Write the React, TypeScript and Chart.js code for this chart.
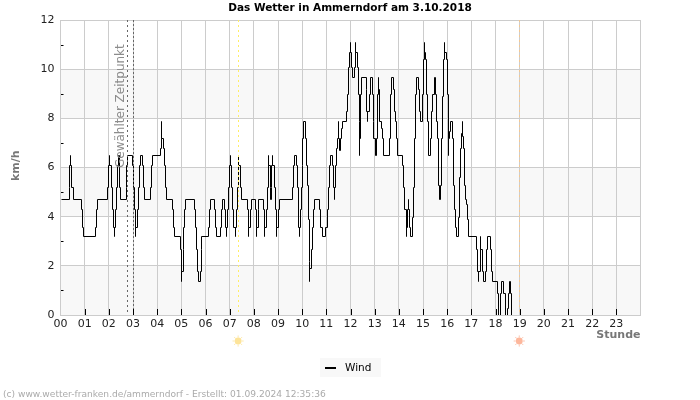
import React, { useEffect, useRef } from "react";
import { Chart, registerables } from "chart.js";

Chart.register(...registerables);

const chartTitle = "Das Wetter in Ammerndorf am 3.10.2018";
const seriesName = "Wind";
const yAxisTitle = "km/h";
const xAxisTitle = "Stunde";
const markerText = "Gewählter Zeitpunkt";
const footerText = "(c) www.wetter-franken.de/ammerndorf - Erstellt: 01.09.2024 12:35:36";

const earlyMinutes = [0, 19.9, 22.3, 24.8, 24.8, 27.3, 29.8, 50.5, 53.8, 55.4, 85.2, 87.7, 90.2, 115, 117.5, 121.6, 121.6, 125, 127.4, 129.9, 131.6, 131.6, 134.9, 137.4, 139.8, 142.3, 144.8, 147.3, 162.2, 163.8, 166.3, 177.1, 179.6, 182, 184.5, 186.2, 186.2, 189.5, 192, 194.5, 196.9, 201.9, 204.4, 206.9, 222.6, 224.3, 226.7, 245.8, 248.3, 250.7, 250.7, 254, 256.5, 259, 261.5, 276.4, 278.9, 281.4, 296.2, 298.7, 300.4, 300.4, 303.7, 305.3, 307.8, 310.3, 331, 334.3, 336, 338.4, 340.9, 345.9, 348.4, 350, 367.4, 369.9, 372.4, 382.3, 384.8, 387.3, 397.2, 399.7, 402.2, 407.1, 409.6, 412.1, 412.1, 414.6, 417.1, 419.5, 422, 422, 424.5, 427, 429.5, 432, 432, 435.3, 437.8, 440.2, 441.9, 441.9, 445.2, 447.7];
const earlyValues = [4.7, 5.2, 6.1, 6.5, 6.1, 5.2, 4.7, 4.3, 3.6, 3.2, 3.6, 4.3, 4.7, 5.2, 6.1, 6.5, 6.1, 5.2, 4.3, 3.6, 3.2, 3.6, 4.3, 5.2, 6.1, 6.5, 5.2, 4.7, 5.2, 6.1, 6.5, 6.1, 5.2, 4.3, 3.6, 3.2, 3.6, 4.3, 5.2, 6.1, 6.5, 6.1, 5.2, 4.7, 5.2, 6.1, 6.5, 6.8, 7.2, 7.9, 7.2, 6.8, 6.1, 5.2, 4.7, 4.3, 3.6, 3.2, 2.7, 1.8, 1.4, 1.8, 2.7, 3.6, 4.3, 4.7, 4.3, 3.6, 2.7, 1.8, 1.4, 1.8, 2.7, 3.2, 3.6, 4.3, 4.7, 4.3, 3.6, 3.2, 3.6, 4.3, 4.7, 4.3, 3.6, 3.2, 3.6, 4.3, 5.2, 6.1, 6.5, 6.1, 5.2, 4.3, 3.6, 3.2, 3.6, 4.3, 5.2, 6.1, 6.5, 6.1, 5.2, 4.7];

const middayMinutes = [462.6, 465, 466.7, 466.7, 470, 472.5, 482.4, 484.9, 486.6, 486.6, 489.9, 491.5, 502.3, 504.8, 506.4, 506.4, 509.7, 512.2, 514.7, 516.4, 516.4, 519.6, 521.3, 522.1, 523.8, 526.3, 526.3, 529.6, 532.1, 534.6, 536.2, 536.2, 539.5, 542, 575.9, 578.4, 580.9, 585.9, 588.4, 590, 590.9, 590.9, 594.2, 596.6, 599.1, 600.8, 603.3, 608.2, 610.7, 613.2, 615.7, 616.5, 618.2, 618.2, 621.5, 623.9, 626.4, 628.9, 643, 645.5, 648, 657.9, 661.3, 663.8, 666.2, 668.7, 673.7, 676.2, 677.8, 677.8, 680.3, 682.8, 685.3, 687.8, 687.8, 691.1, 693.5, 695.2, 697.7, 707.6];
const middayValues = [4.3, 3.6, 3.2, 3.6, 4.3, 4.7, 4.3, 3.6, 3.2, 3.6, 4.3, 4.7, 4.3, 3.6, 3.2, 3.6, 4.3, 5.2, 6.1, 6.5, 6.1, 5.2, 4.7, 5.2, 6.1, 6.5, 6.1, 5.2, 4.3, 3.6, 3.2, 3.6, 4.3, 4.7, 5.2, 6.1, 6.5, 6.1, 5.2, 3.6, 3.2, 3.6, 4.3, 5.2, 6.1, 7.2, 7.9, 7.2, 6.1, 5.3, 3.9, 2.2, 1.4, 1.9, 2.7, 3.6, 4.3, 4.7, 4.3, 3.6, 3.2, 3.6, 4.3, 5.2, 6.1, 6.5, 6.1, 5.2, 4.7, 5.2, 6.1, 6.8, 7.2, 7.9, 7.2, 6.7, 7.2, 7.6, 7.9, 8.3];

const peakMinutes = [710.1, 712.6, 715.1, 717.6, 717.6, 720, 722.5, 728.3, 730.8, 732.4, 732.4, 734.9, 737.4, 739.9, 742.3, 742.3, 744.8, 747.3, 757.3, 759.7, 762.2, 762.2, 764.7, 767.2, 772.2, 774.7, 777.1, 779.6, 782.1, 784.6, 787.1, 787.1, 791.9, 796.9, 799.4, 801.8, 816.7, 819.2, 821.7, 826.7, 829.1, 831.6, 834.1, 836.6, 849, 851.5, 854, 858.9, 858.9, 861.4, 863.9, 863.9, 866.4, 868.9, 873.8, 876.3, 878.8, 881.3, 883.8, 888.7, 891.2, 893.7, 898.7, 901.1, 903.6, 903.6, 906.1, 908.6, 911.1, 913.6, 918.5, 921, 923.5, 928.5, 929.3, 931.8, 934.2, 936.7, 939.2];
const peakValues = [9, 10.1, 10.7, 11.1, 10.7, 10.1, 9.7, 10.1, 10.7, 11.1, 10.7, 10.1, 9, 7.9, 6.5, 7.2, 9, 9.7, 9.2, 8.3, 7.9, 8.3, 9, 9.7, 9, 7.9, 7.2, 6.5, 7.2, 9, 9.7, 9.2, 7.9, 7.6, 7.2, 6.5, 7.2, 9, 9.7, 9.2, 8.3, 7.9, 7.2, 6.5, 6.1, 5.2, 4.3, 3.2, 3.6, 4.3, 4.7, 4.3, 3.6, 3.2, 4, 5.2, 7.2, 9, 9.7, 9.2, 8.3, 7.9, 9, 10.4, 11.1, 10.7, 10.4, 9, 7.9, 6.5, 7.2, 8.3, 9, 9.7, 9, 7.9, 7.2, 5.3, 4.7];

const lateMinutes = [943.4, 945.9, 948.4, 950.8, 953.3, 953.3, 957.5, 960, 961.6, 963.2, 963.2, 965.7, 968.2, 973.2, 975.6, 978.1, 980.6, 983.1, 988.1, 990.5, 993, 995.5, 997.2, 997.2, 1000.5, 1003, 1005.4, 1007.9, 1010.4, 1012.9, 1032.8, 1035.2, 1037.7, 1037.7, 1041, 1042.7, 1042.7, 1046, 1048.5, 1053.4, 1055.9, 1058.4, 1067.5, 1070, 1072.4, 1084.9, 1087.4, 1090.7, 1094.8, 1099.8, 1104.7, 1109.7, 1112.2, 1114.7, 1117.1, 1119.6];
const lateValues = [5.3, 7.2, 8.9, 10.4, 11.1, 10.7, 10.4, 9, 7.2, 6.5, 7.2, 7.5, 7.9, 7.2, 5.3, 4.3, 3.6, 3.2, 4, 5.6, 6.8, 7.4, 7.9, 7.3, 6.8, 5.3, 4.7, 4.5, 3.9, 3.2, 2.7, 1.8, 1.4, 1.8, 2.7, 3.2, 2.7, 1.8, 1.4, 1.8, 2.7, 3.2, 2.7, 1.8, 1.4, 0.9, 0, 0.9, 1.4, 0.9, 0, 0.3, 0.9, 1.4, 0.9, 0];

const windMinutes = [...earlyMinutes, ...middayMinutes, ...peakMinutes, ...lateMinutes];
const windValues = [...earlyValues, ...middayValues, ...peakValues, ...lateValues];

const sunriseMinute = 441;
const sunsetMinute = 1139;
const selectedMinute = 166;
const nowMarkerMinute = 180;
const bandRanges = [[0, 2], [4, 6], [8, 10]];
const minorYTicks = [1, 3, 5, 7, 9, 11];

const uiFont = "'DejaVu Sans', sans-serif";

const decorPlugin = {
  id: "decor",
  afterDatasetsUpdate(chart: any) {
    // The reference line is pixel-snapped: keep the scale-derived points on whole pixels.
    for (const p of chart.getDatasetMeta(0).data) {
      p.x = Math.round(p.x) + 0.5;
      p.y = Math.round(p.y) + 0.5;
    }
  },
  beforeDraw(chart: any) {
    const { ctx, chartArea: a, scales } = chart;
    ctx.save();
    ctx.fillStyle = "#f8f8f8";
    for (const [lo, hi] of bandRanges) {
      const yTop = scales.y.getPixelForValue(hi);
      const yBot = scales.y.getPixelForValue(lo);
      ctx.fillRect(a.left, yTop, a.right - a.left, yBot - yTop);
    }
    ctx.restore();
  },
  afterDatasetsDraw(chart: any) {
    const { ctx, chartArea: a, scales } = chart;
    ctx.save();
    const vline = (minute: number, color: string, dash: number[]) => {
      const x = Math.round(scales.x.getPixelForValue(minute)) + 0.5;
      ctx.strokeStyle = color;
      ctx.lineWidth = 1;
      ctx.setLineDash(dash);
      ctx.beginPath();
      ctx.moveTo(x, a.top);
      ctx.lineTo(x, a.bottom);
      ctx.stroke();
    };
    vline(sunriseMinute, "#ffee66", [2, 3]);
    vline(sunsetMinute, "#f5c890", [2, 3]);
    vline(selectedMinute, "#666666", [2, 3]);
    vline(nowMarkerMinute, "#666666", [2, 2]);
    ctx.setLineDash([]);

    ctx.strokeStyle = "#000";
    ctx.lineWidth = 1;
    ctx.beginPath();
    for (let h = 1; h < 24; h++) {
      const x = Math.round(scales.x.getPixelForValue(h * 60)) + 0.5;
      ctx.moveTo(x, a.bottom - 6);
      ctx.lineTo(x, a.bottom);
    }
    for (const v of minorYTicks) {
      const y = Math.round(scales.y.getPixelForValue(v)) + 0.5;
      ctx.moveTo(a.left + 0.5, y);
      ctx.lineTo(a.left + 3, y);
    }
    ctx.stroke();

    const sun = (minute: number, color: string) => {
      const cx = scales.x.getPixelForValue(minute);
      const cy = a.bottom + 26;
      ctx.fillStyle = color;
      ctx.strokeStyle = color;
      ctx.beginPath();
      ctx.arc(cx, cy, 3.4, 0, Math.PI * 2);
      ctx.fill();
      ctx.lineWidth = 0.8;
      ctx.beginPath();
      for (let i = 0; i < 8; i++) {
        const t = (i * Math.PI) / 4;
        ctx.moveTo(cx + Math.cos(t) * 3.5, cy + Math.sin(t) * 3.5);
        ctx.lineTo(cx + Math.cos(t) * 5.6, cy + Math.sin(t) * 5.6);
      }
      ctx.stroke();
    };
    sun(sunriseMinute, "#fde49a");
    sun(sunsetMinute, "#fdb79c");

    ctx.fillStyle = "#8c8c8c";
    ctx.font = `12px ${uiFont}`;
    ctx.textAlign = "left";
    ctx.textBaseline = "alphabetic";
    ctx.save();
    ctx.translate(scales.x.getPixelForValue(selectedMinute) - 3.5, 168);
    ctx.rotate(-Math.PI / 2);
    ctx.fillText(markerText, 0, 0);
    ctx.restore();

    ctx.fillStyle = "#777777";
    ctx.font = `bold 11px ${uiFont}`;
    ctx.save();
    ctx.translate(19, 181);
    ctx.rotate(-Math.PI / 2);
    ctx.fillText(yAxisTitle, 0, 0);
    ctx.restore();
    ctx.textAlign = "right";
    ctx.fillText(xAxisTitle, a.right, 338);

    ctx.fillStyle = "#f8f8f8";
    ctx.fillRect(320, 358, 61, 19);
    ctx.fillStyle = "#000";
    ctx.fillRect(325, 367, 11, 2);
    ctx.font = `10.5px ${uiFont}`;
    ctx.textAlign = "left";
    ctx.fillText(seriesName, 345, 371);

    ctx.fillStyle = "#aaaaaa";
    ctx.font = `9.1px ${uiFont}`;
    ctx.fillText(footerText, 3, 397);
    ctx.restore();
  },
};

export default function App() {
  const ref = useRef<HTMLCanvasElement>(null);
  useEffect(() => {
    if (!ref.current) return;
    const chart = new Chart(ref.current, {
      type: "line",
      data: {
        datasets: [
          {
            label: seriesName,
            data: windMinutes.map((m, i) => ({ x: m, y: windValues[i] })),
            borderColor: "#000",
            borderWidth: 1,
            pointRadius: 0,
            stepped: true,
            fill: false,
            tension: 0,
            yAxisID: "y",
          },
        ],
      },
      options: {
        responsive: false,
        animation: false,
        devicePixelRatio: 1,
        plugins: {
          legend: { display: false },
          tooltip: { enabled: false },
          title: {
            display: true,
            text: chartTitle,
            color: "#000",
            font: { family: uiFont, size: 10.5, weight: "bold" },
            padding: { top: 2, bottom: 5.4 },
          },
        },
        scales: {
          x: {
            type: "linear",
            min: 0,
            max: 1440,
            grid: { color: "#cccccc", lineWidth: 1, drawTicks: false },
            border: { color: "#cccccc" },
            afterFit: (s: any) => {
              s.height = 85;
            },
            afterBuildTicks: (s: any) => {
              const t = [];
              for (let h = 0; h <= 24; h++) t.push({ value: h * 60 });
              s.ticks = t;
            },
            ticks: {
              autoSkip: false,
              maxRotation: 0,
              color: "#222",
              padding: 3,
              font: { family: uiFont, size: 11 },
              callback: (v: any) => (v >= 1440 ? "" : String(v / 60).padStart(2, "0")),
            },
          },
          y: {
            min: 0,
            max: 12,
            afterFit: (s: any) => {
              s.width = 60.5;
            },
            grid: { color: "#cccccc", lineWidth: 1, drawTicks: false },
            border: { color: "#cccccc" },
            ticks: {
              stepSize: 2,
              color: "#222",
              padding: 6,
              font: { family: uiFont, size: 11 },
            },
          },
          yRightMargin: {
            position: "right",
            min: 0,
            max: 12,
            afterFit: (s: any) => {
              s.width = 59.5;
            },
            grid: { display: false },
            border: { display: false },
            ticks: { display: false },
          },
        },
      },
      plugins: [decorPlugin],
    } as any);
    return () => chart.destroy();
  }, []);
  return (
    <div style={{ position: "fixed", left: 0, top: 0, width: 700, height: 400, background: "#fff" }}>
      <canvas ref={ref} width={700} height={400} style={{ display: "block" }} />
    </div>
  );
}
